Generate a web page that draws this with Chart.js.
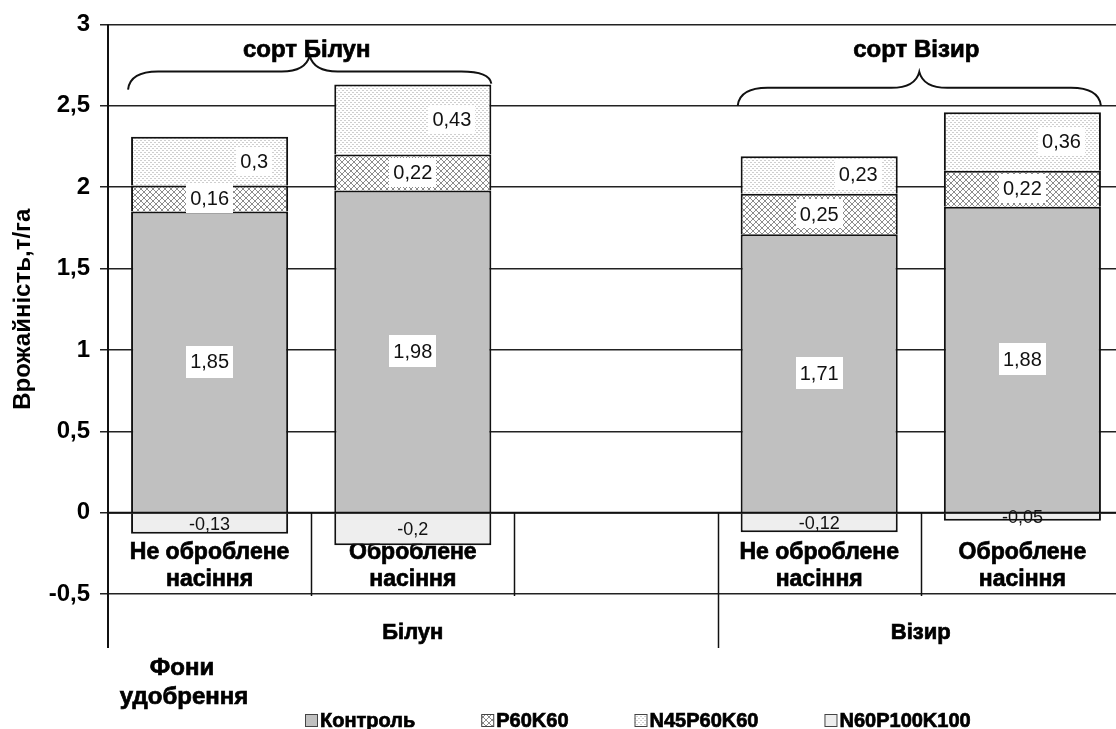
<!DOCTYPE html>
<html>
<head>
<meta charset="utf-8">
<script src="https://cdn.jsdelivr.net/npm/chart.js@4.4.0/dist/chart.umd.min.js"></script>
<style>
  html, body { margin: 0; padding: 0; background: #fff; overflow: hidden; }
  #wrap { position: relative; width: 1124px; height: 729px; }
</style>
</head>
<body>
<div id="wrap"><canvas id="chart"></canvas></div>
<script>
const categories = [
  ['Не оброблене', 'насіння'],
  ['Оброблене', 'насіння'],
  [],
  ['Не оброблене', 'насіння'],
  ['Оброблене', 'насіння']
];
const groups = ['Білун', 'Візир'];
const groupSizes = [3, 2];
const braceLabels = ['сорт Білун', 'сорт Візир'];

const kontrol = [1.85, 1.98, null, 1.71, 1.88];
const p60k60 = [0.16, 0.22, null, 0.25, 0.22];
const n45p60k60 = [0.3, 0.43, null, 0.23, 0.36];
const n60p100k100 = [-0.13, -0.2, null, -0.12, -0.05];

const FONT = '"Liberation Sans", Arial, sans-serif';

function fmt(v) {
  return String(v).replace('.', ',');
}

function makePattern(w, h, draw) {
  const c = document.createElement('canvas');
  c.width = w;
  c.height = h;
  const g = c.getContext('2d');
  g.fillStyle = '#fff';
  g.fillRect(0, 0, w, h);
  draw(g);
  return g.createPattern(c, 'repeat');
}

// сітчаста штриховка для P60K60
const hatch = makePattern(6, 6, g => {
  g.fillStyle = '#8c8c8c';
  for (let i = 0; i < 6; i++) {
    g.fillRect(i, i, 1, 1);
    g.fillRect(5 - i, i, 1, 1);
  }
});

// дрібні крапки для N45P60K60
const dots = makePattern(4, 4, g => {
  g.fillStyle = '#cfcfcf';
  g.fillRect(0, 0, 2, 1);
  g.fillRect(2, 2, 2, 1);
});

function line(ctx, x1, y1, x2, y2) {
  ctx.beginPath();
  ctx.moveTo(x1, y1);
  ctx.lineTo(x2, y2);
  ctx.stroke();
}

// жирний текст трохи "товщий", як у вихідному малюнку
function heavyText(ctx, txt, x, y) {
  ctx.lineWidth = 0.7;
  ctx.strokeStyle = ctx.fillStyle;
  ctx.strokeText(txt, x, y);
  ctx.fillText(txt, x, y);
}

const tablePlugin = {
  id: 'table',
  beforeDatasetsDraw(chart) {
    const ctx = chart.ctx;
    const xs = chart.scales.x, ys = chart.scales.y;
    const y0 = ys.getPixelForValue(0);
    const y1 = ys.getPixelForValue(-0.5);
    ctx.save();
    ctx.fillStyle = '#000';
    ctx.textAlign = 'center';
    ctx.textBaseline = 'middle';
    ctx.font = 'bold 23px ' + FONT;
    categories.forEach((lab, i) => {
      const x = xs.getPixelForValue(i);
      lab.forEach((ln, k) => heavyText(ctx, ln, x, y0 + 40 + k * 27));
    });
    ctx.font = 'bold 22px ' + FONT;
    let start = 0;
    groups.forEach((g, gi) => {
      const a = xs.getPixelForValue(start - 0.5);
      const b = xs.getPixelForValue(start + groupSizes[gi] - 0.5);
      heavyText(ctx, g, (a + b) / 2, y1 + 39);
      start += groupSizes[gi];
    });
    ctx.restore();
  },
  afterDraw(chart) {
    const ctx = chart.ctx;
    const area = chart.chartArea;
    const xs = chart.scales.x, ys = chart.scales.y;
    const y0 = ys.getPixelForValue(0);
    const y1 = ys.getPixelForValue(-0.5);
    const y2 = y1 + 54;
    ctx.save();
    ctx.strokeStyle = '#111';
    ctx.lineWidth = 2;
    line(ctx, area.left, y0, area.right, y0);
    line(ctx, area.left, area.top, area.left, y2);

    const edges = new Set();
    let n = 0;
    groupSizes.forEach(s => { n += s; edges.add(n); });
    ctx.lineWidth = 1.5;
    for (let i = 1; i < categories.length; i++) {
      const x = Math.round(xs.getPixelForValue(i - 0.5)) + 0.5;
      line(ctx, x, y0, x, edges.has(i) ? y2 : y1 + 2);
    }

    // підписи значень
    chart.data.datasets.forEach((ds, di) => {
      const meta = chart.getDatasetMeta(di);
      meta.data.forEach((bar, i) => {
        const v = ds.data[i];
        if (v == null) return;
        const p = bar.getProps(['x', 'y', 'base', 'width'], true);
        const cy = (p.y + p.base) / 2;
        const txt = fmt(v);
        if (v < 0) {
          ctx.font = '18px ' + FONT;
          ctx.fillStyle = '#111';
          ctx.textAlign = 'center';
          ctx.textBaseline = 'middle';
          ctx.fillText(txt, p.x, cy + 1);
          return;
        }
        ctx.font = '20px ' + FONT;
        const w = ctx.measureText(txt).width;
        let cx = p.x;
        if (di === 2) cx = p.x + p.width / 2 - 20 - w / 2;
        const h = di === 0 ? 32 : 29;
        ctx.fillStyle = '#fff';
        ctx.fillRect(Math.round(cx - w / 2 - 4), Math.round(cy - h / 2), Math.round(w + 8), h);
        ctx.fillStyle = '#111';
        ctx.textAlign = 'center';
        ctx.textBaseline = 'middle';
        ctx.fillText(txt, cx, cy + 1);
      });
    });

    // фігурні дужки над сортами
    const tops = [2.71, 2.61];
    const stackTop = idx => [kontrol, p60k60, n45p60k60].reduce((s, arr) => s + (arr[idx] || 0), 0);
    let first = 0;
    groups.forEach((g, gi) => {
      const idxs = [];
      for (let k = first; k < first + groupSizes[gi]; k++) {
        if (kontrol[k] != null) idxs.push(k);
      }
      const bars = chart.getDatasetMeta(0).data;
      const iA = idxs[0], iB = idxs[idxs.length - 1];
      const b1 = bars[iA].getProps(['x', 'width'], true);
      const b2 = bars[iB].getProps(['x', 'width'], true);
      const xa = b1.x - b1.width / 2 - 3;
      const xb = b2.x + b2.width / 2;
      const ym = ys.getPixelForValue(tops[gi]);
      const xt = (xa + xb) / 2;
      const yt = ym - 16;
      const dropL = Math.min(18, ys.getPixelForValue(stackTop(iA)) - ym - 1);
      const dropR = Math.min(18, ys.getPixelForValue(stackTop(iB)) - ym - 1);
      ctx.strokeStyle = '#111';
      ctx.lineWidth = 2;
      ctx.beginPath();
      ctx.moveTo(xa, ym + dropL);
      ctx.quadraticCurveTo(xa + 2, ym, xa + 30, ym);
      ctx.lineTo(xt - 28, ym);
      ctx.quadraticCurveTo(xt - 4, ym, xt, yt);
      ctx.quadraticCurveTo(xt + 4, ym, xt + 28, ym);
      ctx.lineTo(xb - 30, ym);
      ctx.quadraticCurveTo(xb - 2, ym, xb, ym + dropR);
      ctx.stroke();

      ctx.font = 'bold 24px ' + FONT;
      ctx.fillStyle = '#000';
      ctx.textAlign = 'center';
      ctx.textBaseline = 'middle';
      heavyText(ctx, braceLabels[gi], xt - 3, ys.getPixelForValue(3) + 26);
      first += groupSizes[gi];
    });

    // назва категорійної осі
    ctx.font = 'bold 24px ' + FONT;
    ctx.fillStyle = '#000';
    ctx.textAlign = 'center';
    heavyText(ctx, 'Фони', 182, y2 + 20);
    heavyText(ctx, 'удобрення', 184, y2 + 49);

    // легенда
    ctx.font = 'bold 20px ' + FONT;
    ctx.textAlign = 'left';
    let lx = 305;
    const ly = 720;
    chart.data.datasets.forEach(ds => {
      ctx.fillStyle = ds.backgroundColor;
      ctx.fillRect(lx, ly - 6, 12, 12);
      ctx.strokeStyle = '#444';
      ctx.lineWidth = 1;
      ctx.strokeRect(lx + 0.5, ly - 5.5, 12, 12);
      ctx.fillStyle = '#000';
      heavyText(ctx, ds.label, lx + 15, ly + 1);
      lx += 15 + ctx.measureText(ds.label).width + 66;
    });
    ctx.restore();
  }
};

new Chart(document.getElementById('chart'), {
  type: 'bar',
  data: {
    labels: categories.map(c => c.join(' ')),
    datasets: [
      { label: 'Контроль', data: kontrol, backgroundColor: '#c0c0c0' },
      { label: 'P60K60', data: p60k60, backgroundColor: hatch },
      { label: 'N45P60K60', data: n45p60k60, backgroundColor: dots },
      { label: 'N60P100K100', data: n60p100k100, backgroundColor: '#eeeeee' }
    ].map(ds => Object.assign(ds, {
      borderColor: '#111',
      borderWidth: 2,
      borderSkipped: 'start',
      categoryPercentage: 1,
      barPercentage: 0.773
    }))
  },
  options: {
    responsive: true,
    maintainAspectRatio: false,
    animation: false,
    devicePixelRatio: 1,
    layout: { padding: { top: 21, right: 0, bottom: 135, left: 0 } },
    plugins: {
      legend: { display: false },
      tooltip: { enabled: false }
    },
    scales: {
      x: {
        stacked: true,
        display: false
      },
      y: {
        stacked: true,
        min: -0.5,
        max: 3,
        afterFit(scale) { scale.width = 108; },
        ticks: {
          stepSize: 0.5,
          padding: 10,
          color: '#000',
          font: { family: FONT, size: 24, weight: 'bold' },
          callback: v => fmt(v)
        },
        grid: {
          color: '#222',
          lineWidth: 1.5,
          tickLength: 8
        },
        border: { display: false },
        title: {
          display: true,
          text: 'Врожайність,т/га',
          color: '#000',
          font: { family: FONT, size: 24, weight: 'bold' },
          padding: { top: 9, bottom: 0 }
        }
      }
    }
  },
  plugins: [tablePlugin]
});
</script>
</body>
</html>
